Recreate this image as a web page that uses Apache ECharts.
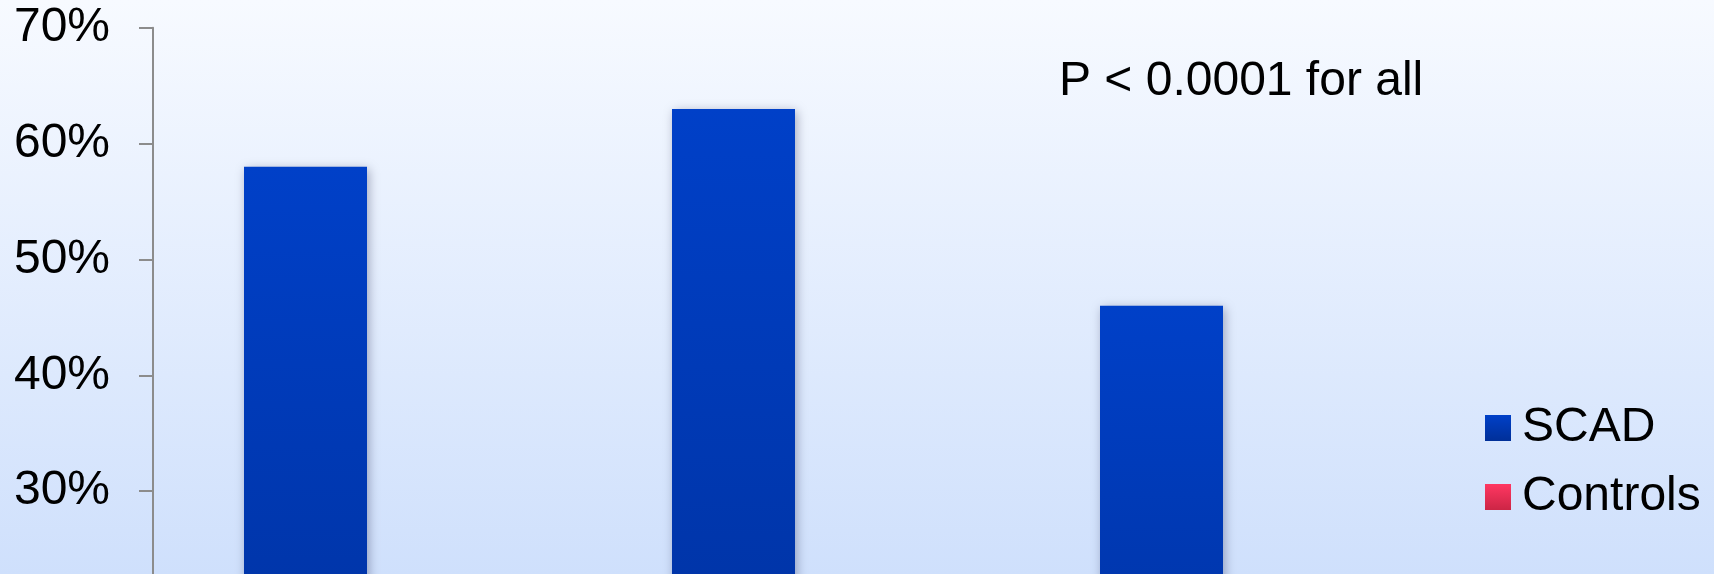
<!DOCTYPE html>
<html>
<head>
<meta charset="utf-8">
<style>
html,body{margin:0;padding:0;overflow:hidden;}
#wrap{width:1714px;height:574px;overflow:hidden;position:relative;}
#c{width:1714px;height:920px;position:absolute;left:0;top:0;}
</style>
<script src="https://cdn.jsdelivr.net/npm/echarts@6/dist/echarts.min.js"></script>
</head>
<body>
<div id="wrap"><div id="c"></div></div>
<script>
// Data
var categories = ['Group A', 'Group B', 'Group C'];
var seriesNames = ['SCAD', 'Controls'];
var scadValues = [58, 63, 46];
var controlValues = [6, 8, 4];
var yTicks = { min: 0, max: 70, interval: 10 };
var annotation = 'P < 0.0001 for all';

var FONT = '"Liberation Sans", Arial, sans-serif';
var chart = echarts.init(document.getElementById('c'), null, {renderer: 'canvas'});

function grad(top, bottom) {
  return new echarts.graphic.LinearGradient(0, 0, 0, 1, [
    {offset: 0, color: top}, {offset: 1, color: bottom}
  ]);
}

var option = {
  animation: false,
  backgroundColor: new echarts.graphic.LinearGradient(0, 0, 0, 574, [
    {offset: 0, color: '#f7faff'}, {offset: 1, color: '#cfe0fc'}
  ], true),
  grid: { left: 153, top: 27.8, width: 1284, height: 811, containLabel: false },
  legend: {
    orient: 'vertical',
    left: 1485,
    top: 404,
    padding: 0,
    itemWidth: 26,
    itemHeight: 26,
    itemGap: 21,
    icon: 'rect',
    data: seriesNames,
    textStyle: { fontFamily: FONT, fontSize: 48, color: '#000', padding: [0, 0, 0, 6] }
  },
  xAxis: {
    type: 'category',
    data: categories,
    axisLine: { lineStyle: { color: '#8c8c8c', width: 2 } },
    axisTick: { show: false },
    axisLabel: { fontFamily: FONT, fontSize: 48, color: '#000' }
  },
  yAxis: {
    type: 'value',
    min: yTicks.min,
    max: yTicks.max,
    interval: yTicks.interval,
    axisLine: { show: true, lineStyle: { color: '#8c8c8c', width: 2 } },
    axisTick: { show: true, length: 14, lineStyle: { color: '#8c8c8c', width: 2 } },
    splitLine: { show: false },
    axisLabel: {
      fontFamily: FONT, fontSize: 48, color: '#000', margin: 43,
      padding: [5, 0, 0, 0],
      formatter: function (v) { return v + '%'; }
    }
  },
  graphic: [{
    type: 'text',
    left: 1059,
    top: 58,
    style: { text: annotation, font: '48px ' + FONT, fill: '#000' }
  }],
  series: [{
    name: seriesNames[0],
    type: 'bar',
    data: scadValues,
    barWidth: 123,
    barGap: '0%',
    itemStyle: {
      color: grad('#0040c8', '#002f98'),
      shadowBlur: 10, shadowColor: 'rgba(0,0,40,0.3)', shadowOffsetX: 2, shadowOffsetY: 2
    }
  }, {
    name: seriesNames[1],
    type: 'bar',
    data: controlValues,
    barWidth: 123,
    itemStyle: {
      color: grad('#ff3762', '#cc2545'),
      shadowBlur: 10, shadowColor: 'rgba(0,0,40,0.3)', shadowOffsetX: 2, shadowOffsetY: 2
    }
  }]
};
chart.setOption(option);
</script>
</body>
</html>
